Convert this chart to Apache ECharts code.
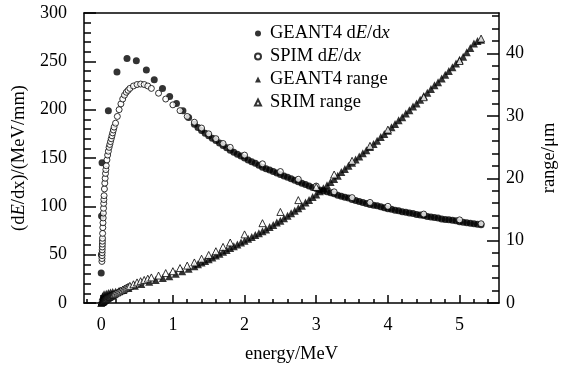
<!DOCTYPE html>
<html><head><meta charset="utf-8">
<script src="https://cdn.jsdelivr.net/npm/echarts@6/dist/echarts.min.js"></script>
<style>html,body{margin:0;padding:0;background:#fff}#c{width:567px;height:369px}</style>
</head><body><div id="c"></div>
<script>
// ---- tick positions ----
const xTicks = [0, 1, 2, 3, 4, 5];
const xMinorTicks = [-0.2, 0.2, 0.4, 0.6, 0.8, 1.2, 1.4, 1.6, 1.8, 2.2, 2.4, 2.6, 2.8, 3.2, 3.4, 3.6, 3.8, 4.2, 4.4, 4.6, 4.8, 5.2, 5.4];
const yLeftTicks = [0, 50, 100, 150, 200, 250, 300];
const yLeftMinor = [10, 20, 30, 40, 60, 70, 80, 90, 110, 120, 130, 140, 160, 170, 180, 190, 210, 220, 230, 240, 260, 270, 280, 290];
const yRightTicks = [0, 10, 20, 30, 40];
const yRightMinor = [2, 4, 6, 8, 12, 14, 16, 18, 22, 24, 26, 28, 32, 34, 36, 38, 42, 44, 46];

// ---- GEANT4 dE/dx (MeV/mm) ----
const g4DedxEnergy = [0, 0.003, 0.005, 0.012, 0.10, 0.22, 0.36, 0.49, 0.63, 0.74, 0.855, 0.955, 1.05, 1.14, 1.22,
  1.30, 1.35, 1.40, 1.45, 1.50, 1.55, 1.60, 1.65, 1.70, 1.75, 1.80, 1.85, 1.90, 1.95, 2.00, 2.05, 2.10, 2.15, 2.20, 2.25,
  2.30, 2.35, 2.40, 2.45, 2.50, 2.55, 2.60, 2.65, 2.70, 2.75, 2.80, 2.85, 2.90, 2.95, 3.00, 3.05, 3.10, 3.15, 3.20, 3.25,
  3.30, 3.35, 3.40, 3.45, 3.50, 3.55, 3.60, 3.65, 3.70, 3.75, 3.80, 3.85, 3.90, 3.95, 4.00, 4.05, 4.10, 4.15, 4.20, 4.25,
  4.30, 4.35, 4.40, 4.45, 4.50, 4.55, 4.60, 4.65, 4.70, 4.75, 4.80, 4.85, 4.90, 4.95, 5.00, 5.05, 5.10, 5.15, 5.20, 5.25, 5.30];
const g4Dedx = [31, 50, 90, 145, 199, 239, 253, 250.5, 241, 231, 222, 213.5, 206.5, 199, 192,
  185, 181.5, 178.5, 175.5, 173, 170.5, 168, 165.5, 163, 160.5, 158, 156, 154, 152, 150, 148, 146, 144.5, 142.5, 140.5,
  139, 137.5, 136, 134.5, 133, 131.5, 130, 128.5, 127, 125.5, 124, 122.5, 121, 119.5, 118.5, 117, 116, 115, 114, 113,
  111.5, 110.5, 109.5, 108.5, 107, 106, 105, 104, 103, 102, 101, 100.5, 99.5, 98.5, 97.5, 97, 96, 95.5, 94.5, 94,
  93, 92.5, 91.5, 91, 90.5, 89.5, 89, 88.5, 88, 87, 86.5, 86, 85.5, 85, 84, 83.5, 83, 82.5, 82, 81.5, 81];

// ---- SRIM (energy grid shared by dE/dx and range) ----
const srimEnergy = [0.010, 0.011, 0.012, 0.013, 0.014, 0.015, 0.016, 0.017, 0.018, 0.020, 0.0225, 0.025, 0.0275, 0.030,
  0.0325, 0.035, 0.0375, 0.040, 0.045, 0.050, 0.055, 0.060, 0.065, 0.070, 0.080, 0.090, 0.100, 0.110, 0.120, 0.130,
  0.140, 0.150, 0.160, 0.170, 0.180, 0.200, 0.225, 0.250, 0.275, 0.300, 0.325, 0.350, 0.375, 0.400, 0.450, 0.500,
  0.550, 0.600, 0.650, 0.700, 0.800, 0.900, 1.000, 1.100, 1.200, 1.300, 1.400, 1.500, 1.600, 1.700, 1.800, 2.000,
  2.250, 2.500, 2.750, 3.000, 3.250, 3.500, 3.750, 4.000, 4.500, 5.000, 5.300];
const srimDedx = [43, 46, 49, 52, 55, 58, 61, 64, 67, 72, 78, 83, 88, 93,
  98, 103, 107, 111, 118, 124, 129, 134, 138, 142, 148, 153, 157, 161, 164, 167,
  170, 173, 176, 179, 182, 186, 193, 200, 206, 211, 215, 218, 220, 222, 224.5, 226,
  226.5, 226, 224.5, 222, 217, 211, 205, 199, 193, 187, 181, 175, 170, 165, 161, 153,
  144, 136, 128, 121, 115, 109, 104, 100, 92, 86, 82];
const srimRange = [0.15, 0.16, 0.17, 0.18, 0.19, 0.20, 0.21, 0.22, 0.23, 0.25, 0.28, 0.31, 0.33, 0.36,
  0.38, 0.40, 0.42, 0.44, 0.48, 0.52, 0.56, 0.60, 0.64, 0.68, 0.75, 0.82, 0.90, 0.97, 1.04, 1.10,
  1.17, 1.23, 1.30, 1.36, 1.42, 1.55, 1.70, 1.85, 2.00, 2.15, 2.30, 2.45, 2.60, 2.75, 3.00, 3.30,
  3.50, 3.70, 3.90, 4.10, 4.40, 4.80, 5.10, 5.60, 6.00, 6.50, 7.10, 7.70, 8.30, 9.00, 9.70, 11.0,
  12.8, 14.6, 16.5, 18.6, 20.6, 22.8, 25.2, 27.8, 33.0, 38.8, 42.4];

// ---- GEANT4 range (um) ----
const g4RangeEnergy = [0, 0.01, 0.02, 0.04, 0.07, 0.10, 0.13, 0.16, 0.20, 0.25, 0.31, 0.38, 0.47, 0.56, 0.67, 0.76, 0.86, 0.95, 1.04, 1.13, 1.22,
  1.30, 1.35, 1.40, 1.45, 1.50, 1.55, 1.60, 1.65, 1.70, 1.75, 1.80, 1.85, 1.90, 1.95, 2.00, 2.05, 2.10, 2.15, 2.20, 2.25,
  2.30, 2.35, 2.40, 2.45, 2.50, 2.55, 2.60, 2.65, 2.70, 2.75, 2.80, 2.85, 2.90, 2.95, 3.00, 3.05, 3.10, 3.15, 3.20, 3.25,
  3.30, 3.35, 3.40, 3.45, 3.50, 3.55, 3.60, 3.65, 3.70, 3.75, 3.80, 3.85, 3.90, 3.95, 4.00, 4.05, 4.10, 4.15, 4.20, 4.25,
  4.30, 4.35, 4.40, 4.45, 4.50, 4.55, 4.60, 4.65, 4.70, 4.75, 4.80, 4.85, 4.90, 4.95, 5.00, 5.05, 5.10, 5.15, 5.20, 5.25, 5.30];
const g4Range = [0, 0.6, 1.1, 1.4, 1.5, 1.6, 1.7, 1.75, 1.8, 1.95, 2.1, 2.4, 2.75, 3.05, 3.4, 3.7, 4.0, 4.3, 4.7, 5.1, 5.5,
  5.9, 6.2, 6.5, 6.75, 7.0, 7.3, 7.6, 7.9, 8.2, 8.5, 8.8, 9.1, 9.4, 9.7, 10.0, 10.3, 10.6, 10.9, 11.2, 11.5,
  11.8, 12.2, 12.5, 12.9, 13.2, 13.6, 14.0, 14.4, 14.8, 15.2, 15.6, 16.1, 16.5, 17.0, 17.4, 17.9, 18.4, 18.9, 19.4, 19.9,
  20.4, 21.0, 21.5, 22.0, 22.5, 23.0, 23.5, 24.0, 24.5, 25.0, 25.5, 26.0, 26.6, 27.1, 27.6, 28.2, 28.7, 29.3, 29.8, 30.4,
  30.9, 31.5, 32.0, 32.6, 33.2, 33.7, 34.3, 34.9, 35.4, 36.0, 36.6, 37.2, 37.8, 38.4, 39.0, 39.5, 40.2, 40.9, 41.6, 42.0, 42.2];

const pairs = (xs, ys) => xs.map((x, i) => [x, ys[i]]);
const FONT = 'Liberation Serif';
const black = '#000';
const ital = () => ({ fontStyle: 'italic', fontFamily: FONT, fontSize: 18.5, color: black });
const line = () => ({ color: black, width: 1.5 });
const X_MIN = -0.24, X_MAX = 5.55, YL_MAX = 300, YR_MAX = 46.5;

// overlay axis carrying only short (minor) ticks
function minorAxis(min, max, position, values, len) {
  return { type: 'value', min, max, position,
    axisLine: { show: false, onZero: false },
    axisTick: { show: true, inside: true, length: len, customValues: values, lineStyle: line() },
    axisLabel: { show: false }, splitLine: { show: false } };
}

const chart = echarts.init(document.getElementById('c'));
chart.setOption({
  animation: false,
  backgroundColor: '#fff',
  grid: { left: 84, right: 56, top: 13, bottom: 66 },
  legend: {
    orient: 'vertical', left: 249, top: 19, itemWidth: 6, itemHeight: 6, itemGap: 4,
    data: ['GEANT4 dE/dx', 'SPIM dE/dx', 'GEANT4 range', 'SRIM range'],
    formatter: n => n.replace('dE/dx', 'd{i|E}/d{i|x}'),
    textStyle: { fontFamily: FONT, fontSize: 18.5, color: black, lineHeight: 19, padding: [0, 0, 0, 4], rich: { i: ital() } }
  },
  xAxis: [
    { type: 'value', min: X_MIN, max: X_MAX, position: 'bottom',
      axisLine: { show: true, onZero: false, lineStyle: line() },
      axisTick: { show: true, inside: true, length: 8, customValues: xTicks, lineStyle: line() },
      axisLabel: { customValues: xTicks, margin: 13, color: black, fontSize: 18, fontFamily: FONT },
      splitLine: { show: false },
      name: 'energy/MeV', nameLocation: 'middle', nameGap: 42,
      nameTextStyle: { fontFamily: FONT, fontSize: 18.5, color: black } },
    minorAxis(X_MIN, X_MAX, 'bottom', xMinorTicks, 4),
    { type: 'value', min: X_MIN, max: X_MAX, position: 'top',
      axisLine: { show: true, onZero: false, lineStyle: line() },
      axisTick: { show: false }, axisLabel: { show: false }, splitLine: { show: false } }
  ],
  yAxis: [
    { type: 'value', min: 0, max: YL_MAX, position: 'left',
      axisLine: { show: true, onZero: false, lineStyle: line() },
      axisTick: { show: true, inside: true, length: 12, customValues: yLeftTicks, lineStyle: line() },
      axisLabel: { customValues: yLeftTicks, margin: 17, color: black, fontSize: 18, fontFamily: FONT },
      splitLine: { show: false },
      name: '(d{i|E}/dx)/(MeV/mm)', nameLocation: 'middle', nameRotate: 90, nameGap: 46,
      nameTextStyle: { fontFamily: FONT, fontSize: 18.5, color: black, rich: { i: ital() } } },
    { type: 'value', min: 0, max: YR_MAX, position: 'right',
      axisLine: { show: true, onZero: false, lineStyle: line() },
      axisTick: { show: true, inside: true, length: 12, customValues: yRightTicks, lineStyle: line() },
      axisLabel: { customValues: yRightTicks, margin: 7, color: black, fontSize: 18, fontFamily: FONT },
      splitLine: { show: false },
      name: 'range/μm', nameLocation: 'middle', nameRotate: 90, nameGap: 41,
      nameTextStyle: { fontFamily: FONT, fontSize: 18.5, color: black } },
    minorAxis(0, YL_MAX, 'left', yLeftMinor, 7),
    minorAxis(0, YR_MAX, 'right', yRightMinor, 7)
  ],
  series: [
    { type: 'scatter', name: 'GEANT4 dE/dx', xAxisIndex: 0, yAxisIndex: 0, symbol: 'circle', symbolSize: 7,
      itemStyle: { color: black }, data: pairs(g4DedxEnergy, g4Dedx) },
    { type: 'scatter', name: 'SPIM dE/dx', xAxisIndex: 0, yAxisIndex: 0, symbol: 'circle', symbolSize: 6,
      itemStyle: { color: '#fff', borderColor: black, borderWidth: 1 }, data: pairs(srimEnergy, srimDedx) },
    { type: 'scatter', name: 'GEANT4 range', xAxisIndex: 0, yAxisIndex: 1, symbol: 'triangle', symbolSize: 8,
      itemStyle: { color: black }, data: pairs(g4RangeEnergy, g4Range) },
    { type: 'scatter', name: 'SRIM range', xAxisIndex: 0, yAxisIndex: 1, symbol: 'triangle', symbolSize: 7,
      itemStyle: { color: '#fff', borderColor: black, borderWidth: 1 }, data: pairs(srimEnergy, srimRange) }
  ]
});
</script></body></html>
